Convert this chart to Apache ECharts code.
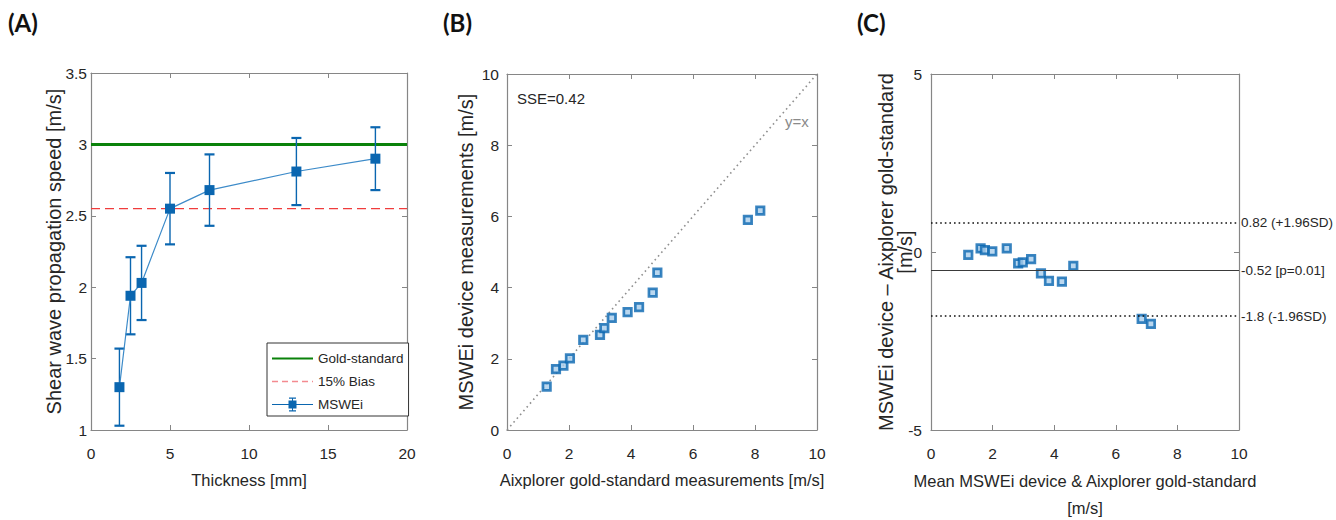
<!DOCTYPE html>
<html>
<head>
<meta charset="utf-8">
<title>MSWEi validation</title>
<script src="https://cdn.jsdelivr.net/npm/echarts@6/dist/echarts.min.js"></script>
<style>
  html, body { margin: 0; padding: 0; background: #fff; }
  #chart { width: 1336px; height: 520px; }
</style>
</head>
<body>
<div id="chart"></div>
<script>
// ---- (A) speed vs phantom thickness ----
const thickness = [1.8, 2.5, 3.2, 5.0, 7.5, 13.0, 18.0];          // mm
const speedMean = [1.30, 1.94, 2.03, 2.55, 2.68, 2.81, 2.90];     // m/s
const speedErr  = [0.27, 0.27, 0.26, 0.25, 0.25, 0.235, 0.22];    // m/s (half error bar)
const goldStandard = 3.0;
const bias15 = 2.55;
const xTicksA = [0, 20, 5];       // min, max, step
const yTicksA = [1, 3.5, 0.5];

// ---- (B) MSWEi vs Aixplorer ----
const aixplorer = [1.28, 1.58, 1.82, 2.03, 2.46, 3.00, 3.14, 3.38, 3.89, 4.26, 4.70, 4.85, 7.77, 8.17];
const msweiMeas = [1.22, 1.71, 1.81, 2.01, 2.53, 2.67, 2.86, 3.15, 3.31, 3.45, 3.86, 4.42, 5.90, 6.16];
const identityLine = [0, 10];
const sseText = 'SSE=0.42';
const ticksB = [0, 10, 2];

// ---- (C) Bland-Altman ----
const baMean = [1.21, 1.61, 1.75, 1.99, 2.46, 2.83, 2.98, 3.25, 3.57, 3.83, 4.25, 4.62, 6.84, 7.14];
const baDiff = [-0.08, 0.10, 0.05, 0.02, 0.10, -0.32, -0.29, -0.20, -0.60, -0.81, -0.83, -0.39, -1.88, -2.02];
const upperLoA = 0.82;
const meanBias = -0.52;
const lowerLoA = -1.8;
const loaLabels = ['0.82 (+1.96SD)', '-0.52 [p=0.01]', '-1.8 (-1.96SD)'];
const xTicksC = [0, 10, 2];
const yTicksC = [-5, 5, 5];

const BLUE = '#0a66b0';
const FILL = '#a9cdeb';
const AXIS = '#868686';
const TXT = '#262626';
const SANS = "'Liberation Sans', Arial, sans-serif";

const chart = echarts.init(document.getElementById('chart'), null, { renderer: 'svg' });

const grids = [
  { left: 91, top: 73, width: 316, height: 357, outerBoundsMode: 'none' },
  { left: 507, top: 74, width: 310, height: 356, outerBoundsMode: 'none' },
  { left: 931, top: 74, width: 308, height: 356, outerBoundsMode: 'none' }
];

function axisBase(range, pos, gridIndex, showLabels, margin) {
  return {
    type: 'value', gridIndex, position: pos,
    min: range[0], max: range[1], interval: range[2],
    axisLine: { show: true, onZero: false, lineStyle: { color: AXIS, width: 1.2 } },
    axisTick: { show: true, inside: true, length: 5, lineStyle: { color: AXIS, width: 1 } },
    splitLine: { show: false },
    axisLabel: { show: showLabels, color: TXT, fontFamily: SANS, fontSize: 15.5, margin: margin }
  };
}

function xName(axis, name, gap, lh) {
  axis.name = name;
  axis.nameLocation = 'middle';
  axis.nameGap = gap;
  axis.nameMoveOverlap = false;
  axis.nameTextStyle = { color: TXT, fontFamily: SANS, fontSize: 16.5, lineHeight: lh || 17 };
  return axis;
}
function yName(axis, name, gap, lh) {
  axis.name = name;
  axis.nameLocation = 'middle';
  axis.nameGap = gap;
  axis.nameMoveOverlap = false;
  axis.nameTextStyle = { color: TXT, fontFamily: SANS, fontSize: 20, lineHeight: lh || 20 };
  return axis;
}

const xAxes = [
  xName(axisBase(xTicksA, 'bottom', 0, true, 15), 'Thickness [mm]', 41),
  axisBase(xTicksA, 'top', 0, false, 8),
  xName(axisBase(ticksB, 'bottom', 1, true, 15), 'Aixplorer gold-standard measurements [m/s]', 41),
  axisBase(ticksB, 'top', 1, false, 8),
  xName(axisBase(xTicksC, 'bottom', 2, true, 15), 'Mean MSWEi device & Aixplorer gold-standard\n[m/s]', 37, 27),
  axisBase(xTicksC, 'top', 2, false, 8)
];
const yAxes = [
  yName(axisBase(yTicksA, 'left', 0, true, 4), 'Shear wave propagation speed [m/s]', 27),
  axisBase(yTicksA, 'right', 0, false, 8),
  yName(axisBase(ticksB, 'left', 1, true, 8), 'MSWEi device measurements [m/s]', 31),
  axisBase(ticksB, 'right', 1, false, 8),
  yName(axisBase(yTicksC, 'left', 2, true, 9), 'MSWEi device \u2013 Aixplorer gold-standard\n[m/s]', 17, 19),
  axisBase(yTicksC, 'right', 2, false, 8)
];

// error bar data: [x, low, high]
const errData = thickness.map((t, i) => [t, speedMean[i] - speedErr[i], speedMean[i] + speedErr[i]]);

function renderErrorBar(params, api) {
  const x = api.value(0);
  const lo = api.coord([x, api.value(1)]);
  const hi = api.coord([x, api.value(2)]);
  const hw = 5;
  const stem = { stroke: BLUE, lineWidth: 1.4 };
  const cap = { stroke: BLUE, lineWidth: 2.2 };
  return {
    type: 'group',
    children: [
      { type: 'line', shape: { x1: lo[0], y1: lo[1], x2: hi[0], y2: hi[1] }, style: stem },
      { type: 'line', shape: { x1: lo[0] - hw, y1: lo[1], x2: lo[0] + hw, y2: lo[1] }, style: cap },
      { type: 'line', shape: { x1: hi[0] - hw, y1: hi[1], x2: hi[0] + hw, y2: hi[1] }, style: cap }
    ]
  };
}

// legend glyphs, drawn in a 41 x 14 box
const ICON_SOLID = 'path://M0,6.2L41,6.2L41,8.2L0,8.2Z';
function dashedIcon() {
  let d = '';
  for (let x = 0; x < 41; x += 10) {
    const w = Math.min(6, 41 - x);
    d += 'M' + x + ',6.4L' + (x + w) + ',6.4L' + (x + w) + ',7.8L' + x + ',7.8Z';
  }
  return 'path://' + d;
}
const ICON_ERRBAR = 'path://' +
  'M0,6.6L41,6.6L41,7.6L0,7.6Z' +
  'M16.5,3L24.5,3L24.5,11L16.5,11Z' +
  'M20,0L21,0L21,14L20,14Z' +
  'M17,0L24,0L24,1.3L17,1.3Z' +
  'M17,12.7L24,12.7L24,14L17,14Z';

const squareMarker = {
  symbol: 'rect', symbolSize: 7.5,
  itemStyle: { color: FILL, borderColor: BLUE, borderWidth: 2.7 }
};

const option = {
  animation: false,
  backgroundColor: '#fff',
  grid: grids,
  xAxis: xAxes,
  yAxis: yAxes,
  legend: {
    data: [
      { name: 'Gold-standard', icon: ICON_SOLID },
      { name: '15% Bias', icon: dashedIcon() },
      { name: 'MSWEi', icon: ICON_ERRBAR }
    ],
    orient: 'vertical',
    left: 267, top: 343,
    padding: [8, 5, 4, 5],
    itemWidth: 41, itemHeight: 14, itemGap: 8,
    backgroundColor: '#fff',
    borderColor: '#333', borderWidth: 1,
    borderRadius: 0,
    textStyle: { color: TXT, fontFamily: SANS, fontSize: 13.5, lineHeight: 15 }
  },
  graphic: [
    { type: 'text', left: 8, top: 10, style: { text: '(A)', font: "bold 24px Lato, 'Open Sans', sans-serif", fill: '#111' } },
    { type: 'text', left: 443, top: 10, style: { text: '(B)', font: "bold 24px Lato, 'Open Sans', sans-serif", fill: '#111' } },
    { type: 'text', left: 857, top: 10, style: { text: '(C)', font: "bold 24px Lato, 'Open Sans', sans-serif", fill: '#111' } },
    { type: 'text', left: 517, top: 91, style: { text: sseText, font: "15px " + SANS, fill: TXT } },
    { type: 'text', left: 785, top: 114, style: { text: 'y=x', font: "15px " + SANS, fill: '#8a8a8a' } }
  ],
  series: [
    // (A)
    {
      name: 'Gold-standard', type: 'line', xAxisIndex: 0, yAxisIndex: 0,
      data: [[xTicksA[0], goldStandard], [xTicksA[1], goldStandard]],
      symbol: 'none', itemStyle: { color: '#0a820a' },
      lineStyle: { color: '#0a820a', width: 3 }, z: 2
    },
    {
      name: '15% Bias', type: 'line', xAxisIndex: 0, yAxisIndex: 0,
      data: [[xTicksA[0], bias15], [xTicksA[1], bias15]],
      symbol: 'none', itemStyle: { color: '#f48a90' },
      lineStyle: { color: '#f03c3c', width: 1.2, type: [9, 5] }, z: 2
    },
    {
      name: 'MSWEi-err', type: 'custom', xAxisIndex: 0, yAxisIndex: 0,
      data: errData, encode: { x: 0, y: [1, 2] }, renderItem: renderErrorBar, z: 3
    },
    {
      name: 'MSWEi', type: 'line', xAxisIndex: 0, yAxisIndex: 0,
      data: thickness.map((t, i) => [t, speedMean[i]]),
      symbol: 'rect', symbolSize: 10, showAllSymbol: true,
      itemStyle: { color: BLUE },
      lineStyle: { color: '#3d8bc9', width: 1.2 }, z: 4
    },
    // (B)
    {
      name: 'identity', type: 'line', xAxisIndex: 2, yAxisIndex: 2,
      data: identityLine.map(v => [v, v]), symbol: 'none',
      lineStyle: { color: '#8f8f8f', width: 1.6, type: [1.6, 3.4] }, z: 2
    },
    Object.assign({
      name: 'B-points', type: 'scatter', xAxisIndex: 2, yAxisIndex: 2,
      data: aixplorer.map((v, i) => [v, msweiMeas[i]]), z: 3
    }, squareMarker),
    // (C)
    Object.assign({
      name: 'C-points', type: 'scatter', xAxisIndex: 4, yAxisIndex: 4,
      data: baMean.map((v, i) => [v, baDiff[i]]), z: 3,
      markLine: {
        silent: true, symbol: 'none', animation: false,
        label: { show: true, position: 'end', distance: 2, color: TXT, fontFamily: SANS, fontSize: 13.5 },
        data: [
          { yAxis: upperLoA, lineStyle: { color: '#111', width: 1.6, type: [1.6, 3] }, label: { formatter: loaLabels[0] } },
          { yAxis: meanBias, lineStyle: { color: '#3a3a3a', width: 1.1, type: 'solid' }, label: { formatter: loaLabels[1] } },
          { yAxis: lowerLoA, lineStyle: { color: '#111', width: 1.6, type: [1.6, 3] }, label: { formatter: loaLabels[2] } }
        ]
      }
    }, squareMarker)
  ]
};

chart.setOption(option);
</script>
</body>
</html>
